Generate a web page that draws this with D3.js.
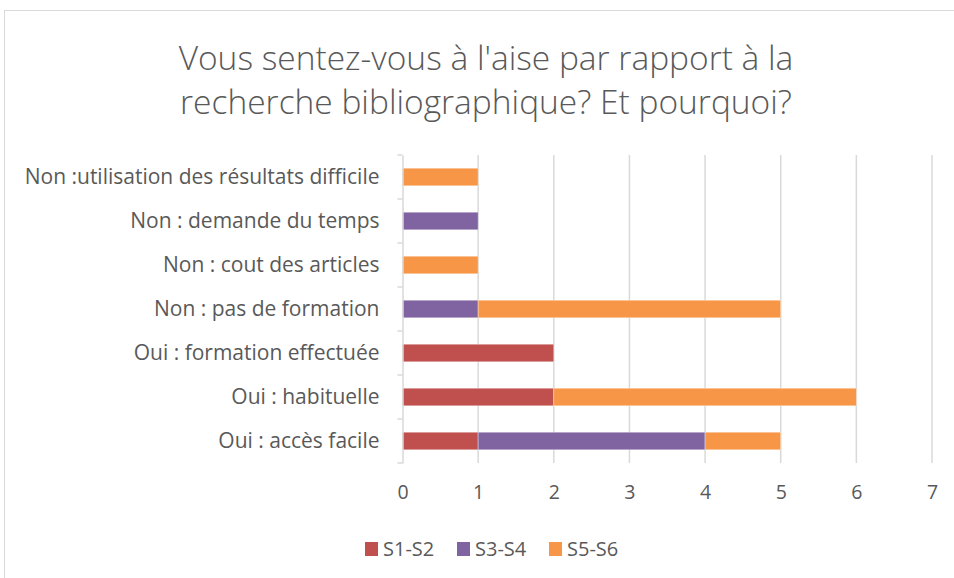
<!DOCTYPE html>
<html>
<head>
<meta charset="utf-8">
<script src="https://cdn.jsdelivr.net/npm/d3@7"></script>
<style>
  body { margin: 0; background: #fff; }
  text { fill: #595959; }
</style>
</head>
<body>
<div id="chart"></div>
<script>
// Survey answers, bottom to top as in the original
const categories = [
    "Oui : accès facile",
    "Oui : habituelle",
    "Oui : formation effectuée",
    "Non : pas de formation",
    "Non : cout des articles",
    "Non : demande du temps",
    "Non :utilisation des résultats difficile"
];
const seriesNames = ["S1-S2", "S3-S4", "S5-S6"];
const s1s2 = [1, 2, 2, 0, 0, 0, 0];
const s3s4 = [3, 0, 0, 1, 0, 1, 0];
const s5s6 = [1, 4, 0, 4, 1, 0, 1];
const xTicks = [0, 1, 2, 3, 4, 5, 6, 7];
const colors = ["#C0504D", "#8064A2", "#F79646"];

const width = 954;
const height = 578;

const svg = d3.select("#chart")
    .append("svg")
    .attr("width", width)
    .attr("height", height);

// chart area frame
svg.append("rect")
    .attr("x", 4.5).attr("y", 10.5)
    .attr("width", 960).attr("height", 600)
    .attr("fill", "none")
    .attr("stroke", "#d9d9d9");

// title
const title = svg.append("text")
    .attr("text-anchor", "middle")
    .style("font-family", "'Open Sans', sans-serif")
    .style("font-size", "33.5px")
    .style("font-weight", 300);
title.append("tspan").attr("x", 486).attr("y", 70).text("Vous sentez-vous à l'aise par rapport à la");
title.append("tspan").attr("x", 486).attr("y", 114).text("recherche bibliographique? Et pourquoi?");

const margin = { left: 402.5, right: 932, top: 155, bottom: 463 };

const x = d3.scaleLinear()
    .domain([0, 7])
    .range([margin.left, margin.right]);

const y = d3.scaleBand()
    .domain(categories.slice().reverse())
    .range([margin.top, margin.bottom])
    .paddingInner(0.6)
    .paddingOuter(0.3);

// gridlines
svg.append("g")
    .selectAll("line")
    .data(xTicks.slice(1))
    .join("line")
    .attr("x1", d => x(d)).attr("x2", d => x(d))
    .attr("y1", margin.top).attr("y2", margin.bottom)
    .attr("stroke", "#d9d9d9")
    .attr("stroke-width", 1.5);

// stacked data
const rows = categories.map((c, i) => ({ cat: c, "S1-S2": s1s2[i], "S3-S4": s3s4[i], "S5-S6": s5s6[i] }));
const stacked = d3.stack().keys(seriesNames)(rows);

svg.append("g")
    .selectAll("g")
    .data(stacked)
    .join("g")
    .attr("fill", (d, i) => colors[i])
    .selectAll("rect")
    .data(d => d.filter(p => p[1] > p[0]))
    .join("rect")
    .attr("x", d => x(d[0]))
    .attr("y", d => y(d.data.cat))
    .attr("width", d => x(d[1]) - x(d[0]))
    .attr("height", y.bandwidth())
    .attr("stroke", "#fff")
    .attr("stroke-opacity", 0.5)
    .attr("stroke-width", 0.75);

// category axis
const yAxis = svg.append("g")
    .attr("transform", `translate(${margin.left},0)`)
    .call(d3.axisLeft(y).tickSize(0).tickPadding(23));
yAxis.select(".domain").attr("stroke", "#d9d9d9").attr("stroke-width", 1.5);
yAxis.selectAll("text")
    .style("font-family", "'Open Sans', sans-serif")
    .style("font-size", "21px")
    .attr("fill", "#595959");

// category boundary ticks
const step = (margin.bottom - margin.top) / categories.length;
svg.append("g")
    .selectAll("line")
    .data(d3.range(categories.length + 1))
    .join("line")
    .attr("x1", margin.left - 5).attr("x2", margin.left)
    .attr("y1", d => margin.top + d * step).attr("y2", d => margin.top + d * step)
    .attr("stroke", "#d9d9d9")
    .attr("stroke-width", 1.5);

// value axis labels
const xAxis = svg.append("g")
    .attr("transform", `translate(0,${margin.bottom})`)
    .call(d3.axisBottom(x).tickValues(xTicks).tickSize(0).tickPadding(22).tickFormat(d3.format("d")));
xAxis.select(".domain").remove();
xAxis.selectAll("text")
    .style("font-family", "'Open Sans', sans-serif")
    .style("font-size", "19.5px")
    .attr("fill", "#595959");

// legend
const legendX = [365, 457, 549];
const legend = svg.append("g")
    .selectAll("g")
    .data(seriesNames)
    .join("g")
    .attr("transform", (d, i) => `translate(${legendX[i]},542)`);
legend.append("rect")
    .attr("width", 13).attr("height", 14)
    .attr("fill", (d, i) => colors[i]);
legend.append("text")
    .attr("x", 18).attr("y", 14)
    .style("font-family", "'Open Sans', sans-serif")
    .style("font-size", "20px")
    .text(d => d);
</script>
</body>
</html>
